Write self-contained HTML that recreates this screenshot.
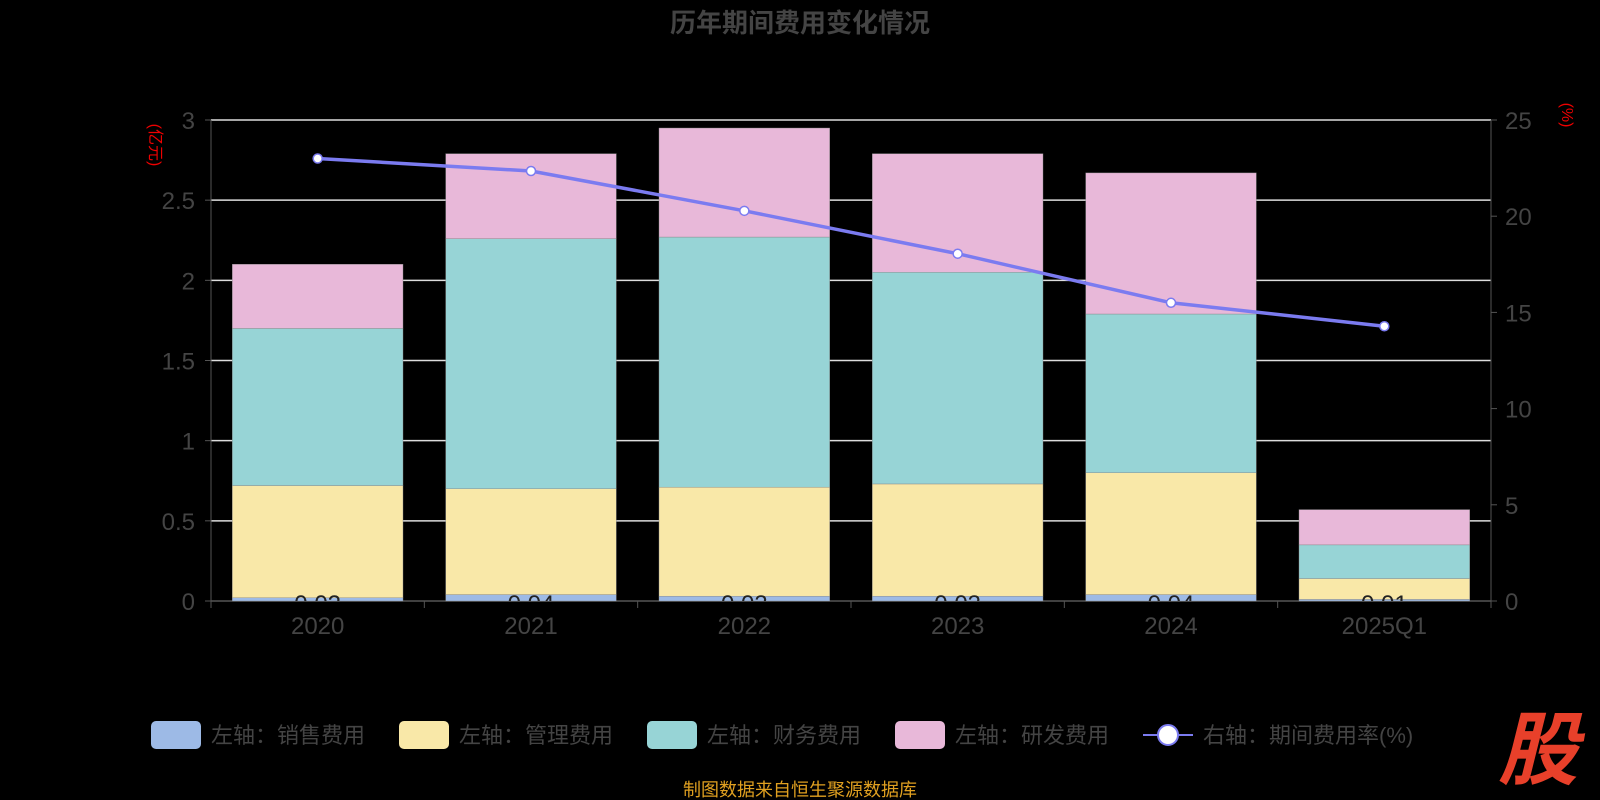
<!DOCTYPE html>
<html><head><meta charset="utf-8"><style>
html,body{margin:0;padding:0;background:#000;width:1600px;height:800px;overflow:hidden}
svg{display:block;font-family:"Liberation Sans","Noto Sans CJK SC",sans-serif}
</style></head><body>
<svg id="c" width="1600" height="800">
<defs><clipPath id="clipTop"><rect x="0" y="0" width="1600" height="601"/></clipPath></defs>
<text x="800" y="32" text-anchor="middle" font-size="26" font-weight="bold" fill="#444">历年期间费用变化情况</text>
<text transform="translate(150,145) rotate(90)" text-anchor="middle" font-size="16" fill="#e00">(亿元)</text>
<text transform="translate(1562,115) rotate(90)" text-anchor="middle" font-size="16" fill="#e00">(%)</text>
<g id="grid"></g><g id="bars"></g><g id="lbl" clip-path="url(#clipTop)"></g><g id="line"></g><g id="axes"></g>
<g font-size="22" fill="#444">
<rect x="151" y="721" width="50" height="28" rx="5" fill="#9dbae6"/><text x="211" y="743">左轴：销售费用</text>
<rect x="399" y="721" width="50" height="28" rx="5" fill="#f9e8a8"/><text x="459" y="743">左轴：管理费用</text>
<rect x="647" y="721" width="50" height="28" rx="5" fill="#97d4d6"/><text x="707" y="743">左轴：财务费用</text>
<rect x="895" y="721" width="50" height="28" rx="5" fill="#e8b8d9"/><text x="955" y="743">左轴：研发费用</text>
<line x1="1143" y1="735" x2="1193" y2="735" stroke="#7b7bf0" stroke-width="2"/><circle cx="1168" cy="735" r="10" fill="#fff" stroke="#7b7bf0" stroke-width="2"/><text x="1203" y="743">右轴：期间费用率(%)</text>
</g>
<text x="800" y="796" text-anchor="middle" font-size="18" fill="#e0a020">制图数据来自恒生聚源数据库</text>
<text x="1538" y="778" text-anchor="middle" font-size="80" font-weight="bold" font-style="italic" fill="#e8402a">股</text>
</svg>
<script>
const categories=["2020","2021","2022","2023","2024","2025Q1"];
const sales=[0.02,0.04,0.03,0.03,0.04,0.01];
const mgmt=[0.70,0.66,0.68,0.70,0.76,0.13];
const fin=[0.98,1.56,1.56,1.32,0.99,0.21];
const rd=[0.40,0.53,0.68,0.74,0.88,0.22];
const rate=[23.0,22.35,20.28,18.05,15.5,14.28];
const leftTicks=["0","0.5","1","1.5","2","2.5","3"];
const rightTicks=["0","5","10","15","20","25"];
const NS="http://www.w3.org/2000/svg";
const x0=211,x1=1491,yb=601,yt=120;
const yL=v=>yb-(v/3)*(yb-yt);
const yR=v=>yb-(v/25)*(yb-yt);
const bw=(x1-x0)/categories.length;
const xc=i=>x0+bw*(i+0.5);
function mk(p,t,a){const e=document.createElementNS(NS,t);for(const k in a)e.setAttribute(k,a[k]);document.getElementById(p).appendChild(e);return e;}
leftTicks.forEach((t,i)=>{const v=+t,y=yL(v);
 const g=mk('grid','line',{x1:x0,x2:x1,y1:y,y2:y,stroke:v===0?'#555':'#ddd','stroke-width':1.5});
 
 const l=mk('axes','text',{x:x0-16,y:y+9,'text-anchor':'end','font-size':24,fill:'#444'});l.textContent=t;
 
 mk('axes','line',{x1:x0-6,x2:x0,y1:y,y2:y,stroke:'#555'});});
rightTicks.forEach(t=>{const y=yR(+t);
 const l=mk('axes','text',{x:x1+14,y:y+9,'font-size':24,fill:'#444'});l.textContent=t;
 
 mk('axes','line',{x1:x1,x2:x1+6,y1:y,y2:y,stroke:'#555'});});
mk('axes','line',{x1:x0,x2:x0,y1:yt,y2:yb,stroke:'#555'});
mk('axes','line',{x1:x1,x2:x1,y1:yt,y2:yb,stroke:'#555'});
for(let i=0;i<=categories.length;i++)mk('axes','line',{x1:x0+bw*i,x2:x0+bw*i,y1:yb,y2:yb+7,stroke:'#555'});
const series=[[sales,'#9dbae6','sales'],[mgmt,'#f9e8a8','mgmt'],[fin,'#97d4d6','fin'],[rd,'#e8b8d9','rd']];
categories.forEach((c,i)=>{let acc=0;const w=bw*0.8;
 series.forEach(([arr,col,n])=>{const a=yL(acc),b=yL(acc+arr[i]);acc+=arr[i];
  const r=mk('bars','rect',{x:xc(i)-w/2,y:b,width:w,height:a-b,fill:col,stroke:'#888','stroke-width':0.4});
  });
 const s=mk('lbl','text',{x:xc(i),y:yb+11,'text-anchor':'middle','font-size':24,fill:'#222'});s.textContent=sales[i].toFixed(2);
 
 const l=mk('axes','text',{x:xc(i),y:yb+33,'text-anchor':'middle','font-size':24,fill:'#444'});l.textContent=c;
 });
const pts=rate.map((v,i)=>xc(i)+','+yR(v)).join(' ');
const pl=mk('line','polyline',{points:pts,fill:'none',stroke:'#7b7bf0','stroke-width':3.5});

rate.forEach((v,i)=>{const p=mk('line','circle',{cx:xc(i),cy:yR(v),r:4.5,fill:'#fff',stroke:'#7b7bf0','stroke-width':1.5});
 });
</script>
</body></html>
